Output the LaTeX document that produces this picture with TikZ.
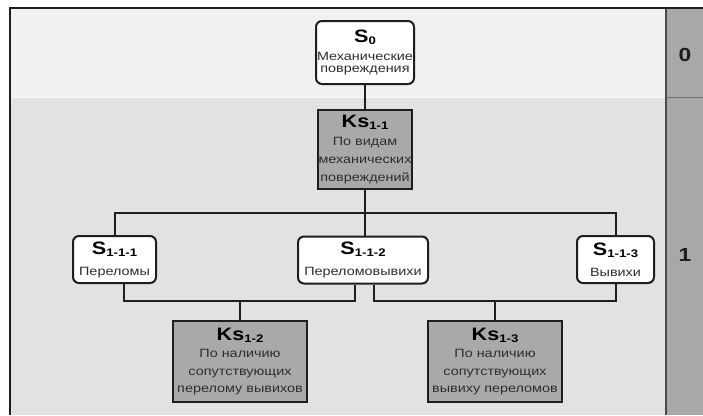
\documentclass[tikz,border=0pt]{standalone}
\usepackage{fontspec}
\setmainfont[FakeStretch=1.2]{Liberation Sans}
\definecolor{linec}{HTML}{1E1E1E}
\definecolor{bodyc}{HTML}{2E2E2E}
\definecolor{kfill}{HTML}{A9A9A9}
\definecolor{colfill}{HTML}{A8A8A8}
\definecolor{bandA}{HTML}{F1F1F1}
\definecolor{bandB}{HTML}{E2E2E2}
\newcommand\subidx[1]{\raisebox{-2pt}{\fontsize{11}{11}\selectfont\bfseries #1}}
\newcommand\ttl[2]{{\fontsize{18}{19}\selectfont\bfseries\color{black}#1\subidx{#2}}}
\begin{document}
\begin{tikzpicture}[x=1pt,y=-1pt,
  sbox/.style={draw=linec, line width=2pt, rounded corners=6pt, fill=white,
    align=center, inner sep=0pt, text=bodyc},
  kbox/.style={draw=linec, line width=2pt, fill=kfill,
    align=center, inner sep=0pt, text=bodyc},
  link/.style={draw=linec, line width=2pt},
  lvl/.style={font=\fontsize{19}{19}\selectfont\bfseries, text=linec}]
\useasboundingbox (0,0) rectangle (703,415);
\fill[white] (0,0) rectangle (703,415);
% level bands
\fill[bandA] (10,8) rectangle (666,97);
\fill[bandB] (10,97) rectangle (666,415);
\draw[white!85!bandB, line width=0.8pt] (10,97) -- (666,97);
% level column
\fill[colfill] (666,8) rectangle (703,415);
\draw[gray!90!black, line width=1pt] (666,97) -- (703,97);
\draw[linec!80, line width=1.4pt] (666,8) -- (666,415);
% outer frame
\draw[linec, line width=1.6pt] (10,415) -- (10,8) -- (703,8);
\node[lvl] (l0) at (685,55) {0};
\node[lvl] (l1) at (685,255) {1};

% nodes
\node[sbox, minimum width=98pt, minimum height=63pt,
  font=\fontsize{12}{12.5}\selectfont] (s0) at (365,52.5)
  {\ttl{S}{0}\\[5pt]Механические\\повреждения};
\node[kbox, minimum width=94pt, minimum height=79pt,
  font=\fontsize{12}{18}\selectfont] (k11) at (365,149.5)
  {\ttl{Ks}{1-1}\\По видам\\механических\\повреждений};
\node[sbox, minimum width=83pt, minimum height=47pt,
  font=\fontsize{12}{21}\selectfont] (s111) at (114.5,259.5)
  {\ttl{S}{1-1-1}\\Переломы};
\node[sbox, minimum width=130pt, minimum height=47pt,
  font=\fontsize{12}{21}\selectfont] (s112) at (363,260)
  {\ttl{S}{1-1-2}\\Переломовывихи};
\node[sbox, minimum width=77pt, minimum height=47pt,
  font=\fontsize{12}{21}\selectfont] (s113) at (615.5,259.5)
  {\ttl{S}{1-1-3}\\Вывихи};
\node[kbox, minimum width=134pt, minimum height=81pt,
  font=\fontsize{12}{17.5}\selectfont] (k12) at (240,361.5)
  {\ttl{Ks}{1-2}\\По наличию\\сопутствующих\\перелому вывихов};
\node[kbox, minimum width=134pt, minimum height=81pt,
  font=\fontsize{12}{17.5}\selectfont] (k13) at (495,361.5)
  {\ttl{Ks}{1-3}\\По наличию\\сопутствующих\\вывиху переломов};

% connectors
\coordinate (hub) at (365,213);
\coordinate (j1) at (240,301);
\coordinate (j2) at (495,301);
\draw[link] (s0) -- (k11);
\draw[link] (k11) -- (hub);
\draw[link] (s111.north) |- (hub) -| (s113.north);
\draw[link] (hub) -- (hub |- s112.north);
\draw[link] ([xshift=9.5pt]s111.south) |- (j1) -| ([xshift=-8pt]s112.south);
\draw[link] (k12.north) -- (j1);
\draw[link] ([xshift=11pt]s112.south) |- (j2) -| (s113.south);
\draw[link] (k13.north) -- (j2);
\end{tikzpicture}
\end{document}
